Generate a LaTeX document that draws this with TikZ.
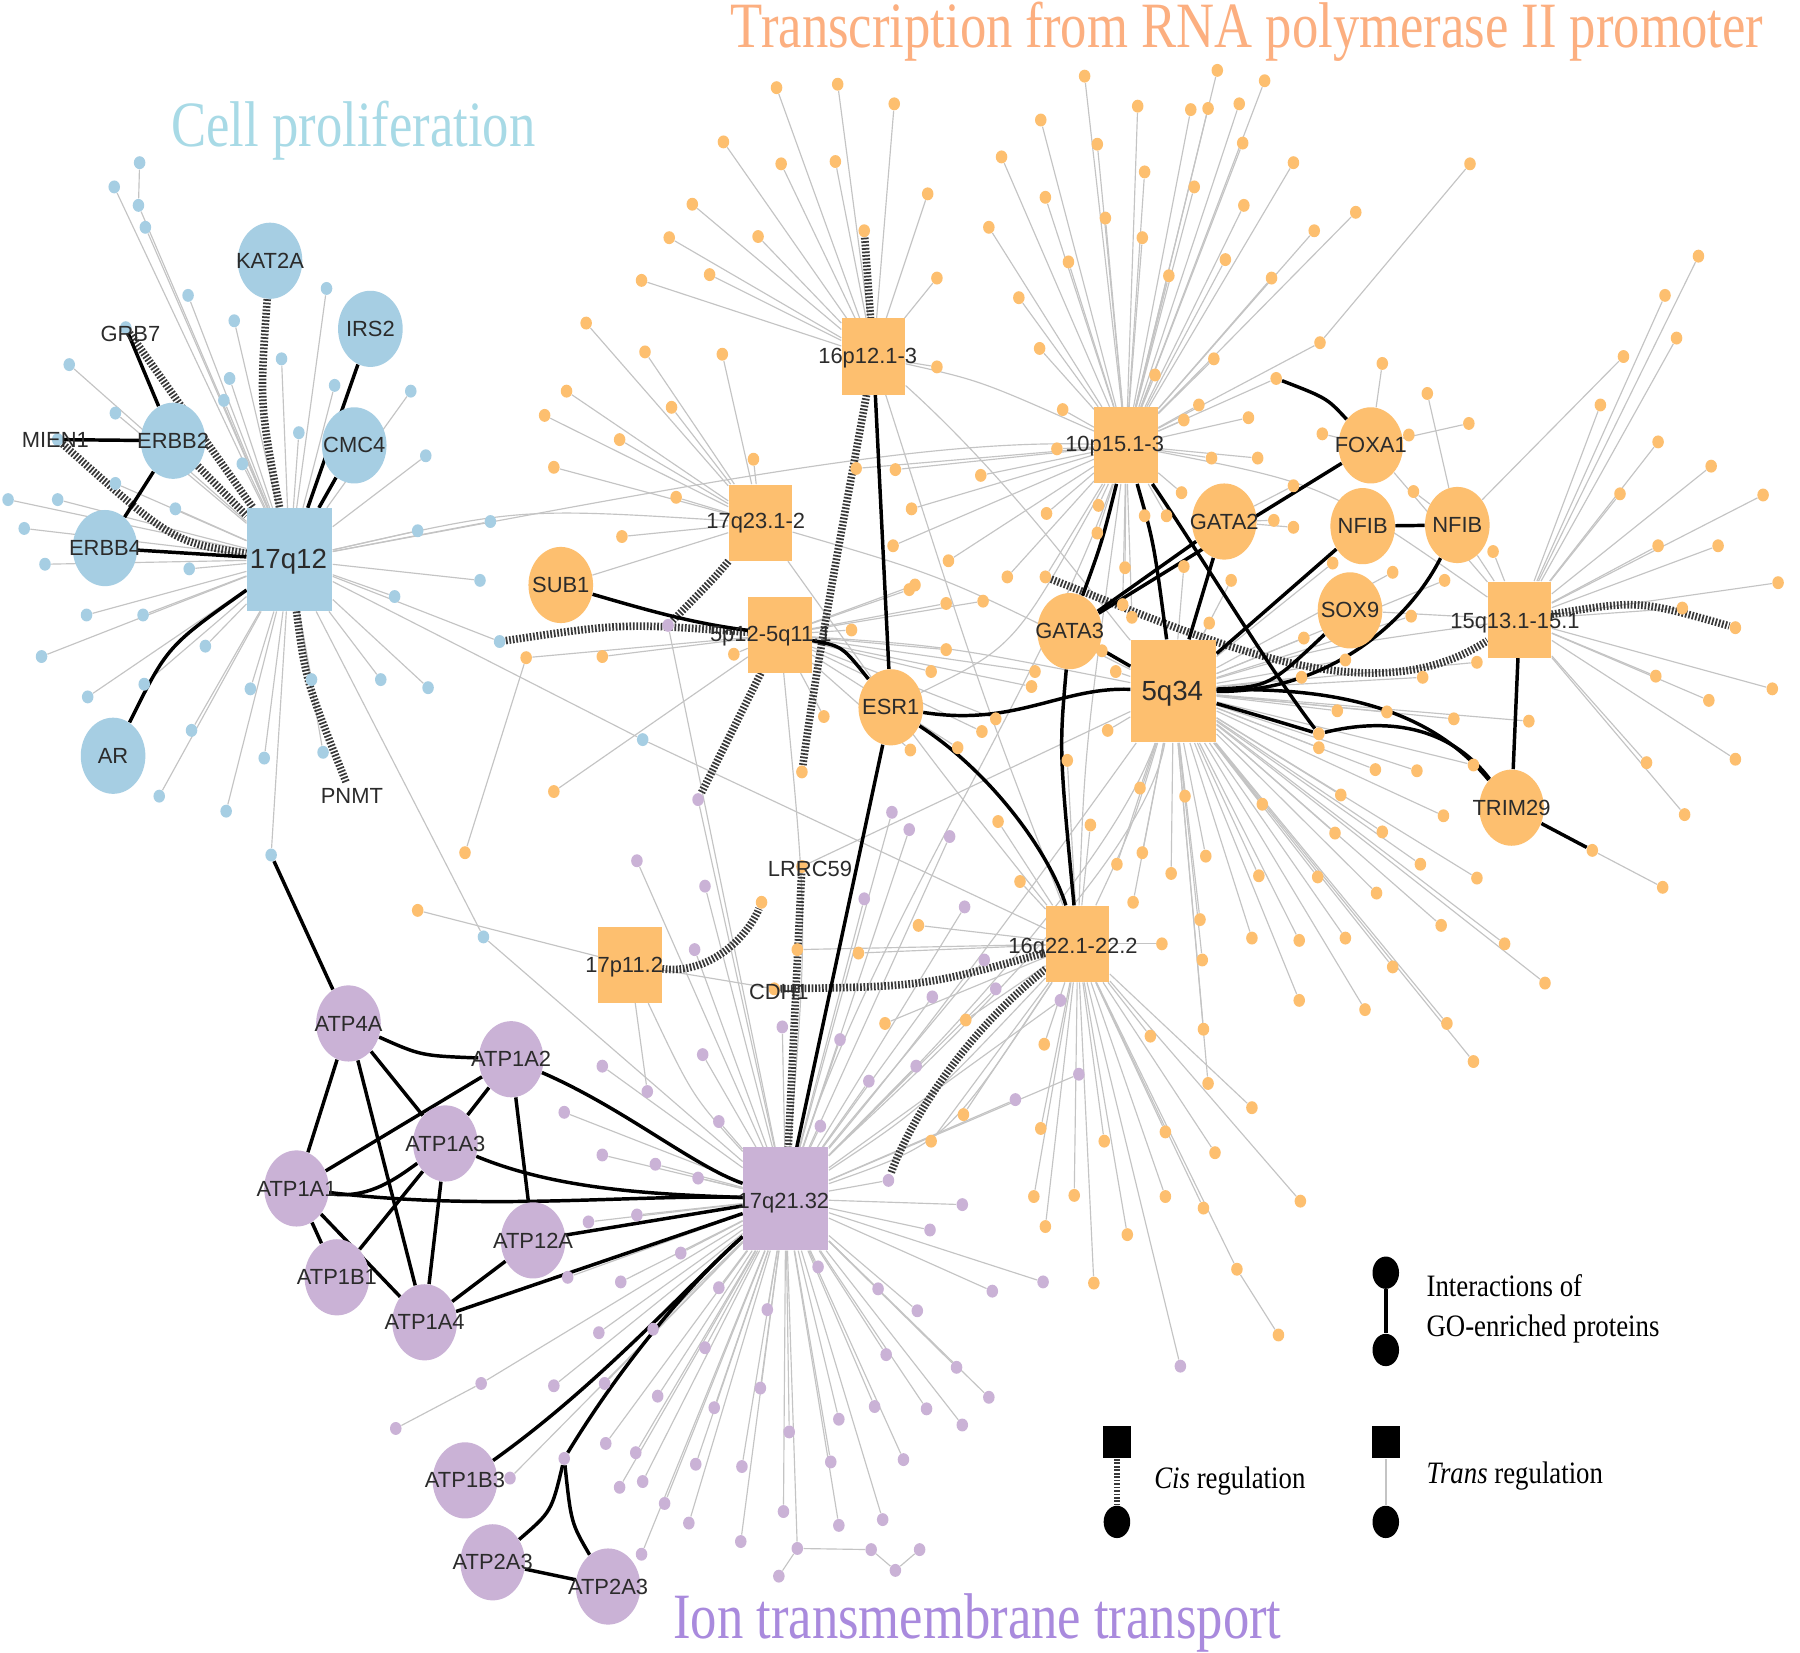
\documentclass[tikz,border=0pt]{standalone}
\usepackage{fontspec}
\setmainfont{Liberation Serif}
\newfontfamily\labfont{Liberation Sans}
\usetikzlibrary{shapes.geometric}
\definecolor{cb}{HTML}{A6CEE3}
\definecolor{co}{HTML}{FDBF6F}
\definecolor{cp}{HTML}{CAB2D6}
\definecolor{tblue}{HTML}{A8DAE6}
\definecolor{torange}{HTML}{FCAF80}
\definecolor{tpurple}{HTML}{A98ADD}
\definecolor{txt}{HTML}{2B2B2B}
\definecolor{eg}{HTML}{C4C4C4}
\pgfdeclarelayer{bg}
\pgfdeclarelayer{mid}
\pgfsetlayers{bg,mid,main}
\newcommand\mkdots[3]{\foreach \x/\y [count=\i] in #3 {\node[#2] (#1\i) at (\x,\y) {};}}
\newcommand\mkedges[3]{\foreach \x/\y [count=\i] in #3 {\draw[trans] (#2) -- (#1\i);}}
\def\listB{99/162, 126/197, 163/256, 283/250, 203/278, 244/311, 60/316, 199/328, 290/334, 356/339, 194/347, 100/358, 259/375, 369/395, 210/402, 100/419, 7/433, 50/433, 152/441, 21/458, 362/460, 425/452, 39/489, 164/493, 75/533, 124/533, 36/569, 178/560, 76/604, 125/593, 217/597, 270/589, 330/589, 342/517, 416/503, 371/596, 166/633, 229/657, 280/652, 138/690, 196/703}
\def\listA{673/76, 726/73, 775/90, 627/123, 677/142, 724/140, 600/177, 580/206, 657/205, 556/243, 615/238, 804/168, 812/241, 812/318}
\def\listC{559/305, 626/307, 582/353, 537/381, 586/431, 539/465, 653/398, 508/280, 491/339, 472/360, 480/405}
\def\listD{940/66, 986/92, 1032/95, 902/104, 951/125, 992/149, 1035/162, 868/136, 906/171, 958/189, 990/206, 857/197, 926/227, 1013/239, 883/258, 901/302, 1001/325, 921/355, 1026/364, 1039/351, 916/389, 952/438, 951/462, 992/447, 1011/447, 1024/427, 907/445, 1055/61, 1096/70, 1047/94, 1074/90, 1077/124, 1121/141, 1078/178, 1175/184, 1139/200, 1062/225, 1102/241, 850/412, 790/441, 776/407, 742/406, 774/473, 1052/311, 1082/362, 1050/397, 1090/397, 873/500, 822/486, 975/492, 973/524, 981/535}
\def\listE{1198/315, 1146/376, 1221/377, 1273/367}
\def\listF{1121/421, 1104/451, 1121/457}
\def\listG{1237/341, 1225/426, 1407/309}
\def\listH{1472/222, 1443/256, 1453/293, 1387/351, 1437/383, 1483/404, 1404/428, 1528/429, 1437/473, 1489/473, 1294/478, 1541/505, 1458/527, 1435/586, 1481/607, 1536/597, 1427/661, 1504/658, 1460/706}
\def\listK{1155/488, 1207/496, 1252/503, 1067/503, 1048/540, 1130/553, 1223/534, 1166/572, 1128/587, 1233/587, 1280/574, 1159/616, 1202/617, 1260/623, 1325/625, 1143/648, 1192/667, 1228/668, 1277/663, 1162/689, 1094/697, 1251/707, 1157/722, 1198/721, 1045/742, 1091/759, 1142/760, 1231/749, 1280/761, 1193/774, 1040/797, 1249/802, 1085/813, 1126/815, 1166/813, 1304/818, 1042/832, 1207/838, 1339/852, 1126/867, 1183/875, 1254/887, 1043/892, 1277/920, 1047/939, 1026/491, 955/564, 967/582, 960/633, 988/683, 1027/690, 990/739, 968/749, 1015/757, 982/782}
\def\listL{788/511, 793/507, 852/521, 820/523, 738/546, 820/563, 807/582, 636/567, 522/569, 714/621, 789/650, 830/648, 851/634, 863/623, 897/582, 894/595, 480/686}
\def\listM{865/712, 945/715, 884/764, 796/802, 1007/818, 744/826, 691/823, 837/884, 767/887, 905/905, 997/898, 925/659, 835/966, 807/989, 902/978, 957/989, 1010/981, 896/1037, 931/1036, 1010/1037, 906/1063, 977/1070, 948/1112, 1085/960, 1053/999, 1127/1041, 1043/1047}
\def\listP{552/746, 773/704, 788/719, 823/725, 611/768, 749/779, 836/786, 602/823, 853/832, 863/857, 808/864, 919/867, 678/890, 728/901, 609/914, 522/924, 753/937, 794/924, 880/953, 935/931, 623/972, 522/1001, 568/1009, 605/1021, 552/1053, 711/976, 590/1086, 538/1111, 623/1116, 709/1098, 834/1044, 806/1066, 860/1119, 904/1111, 761/1117, 795/1136, 665/1135, 566/1152, 611/1168, 768/1174, 829/1185, 659/1203, 524/1199, 570/1210, 619/1220, 758/1219, 803/1221, 857/1211, 727/1230, 684/1241, 834/1235, 525/1251, 551/1259, 603/1269, 643/1271, 720/1267, 783/1265, 537/1289, 557/1284, 576/1303, 679/1310, 727/1322, 765/1317, 597/1320, 642/1336, 556/1347, 489/964, 510/1059, 492/1107, 519/1155, 480/1201, 442/1281}
\begin{document}
\begin{tikzpicture}[x=0.5pt,y=-0.5pt,
 bdot/.style={ellipse,fill=cb,minimum width=5pt,minimum height=5.6pt,inner sep=0pt},
 odot/.style={bdot,fill=co},
 pdot/.style={bdot,fill=cp},
 hlab/.style={font=\labfont\fontsize{9.5}{10}\selectfont,text=txt,inner sep=0pt},
 biglab/.style={hlab,font=\labfont\fontsize{12}{13}\selectfont},
 gene/.style={ellipse,minimum width=28pt,minimum height=33pt,inner sep=0pt,label={[hlab]center:#1}},
 bgene/.style={gene=#1,fill=cb}, ogene/.style={gene=#1,fill=co}, pgene/.style={gene=#1,fill=cp},
 hubsq/.style={rectangle,minimum width=27.5pt,minimum height=33pt,inner sep=0pt},
 bighub/.style={hubsq,minimum width=37pt,minimum height=44.5pt},
 trans/.style={draw=eg,line width=0.5pt},
 ppi/.style={draw=black,line width=1.5pt},
 cisreg/.style={draw=black!78,line width=3.3pt,dash pattern=on 0.75pt off 0.75pt},
 title/.style={anchor=base west,inner sep=0pt},
 legtxt/.style={anchor=base west,inner sep=0pt,font=\fontsize{13.5}{15}\selectfont,text=black},
 legdot/.style={ellipse,fill=black,minimum width=11.5pt,minimum height=14pt,inner sep=0pt},
 legsq/.style={rectangle,fill=black,minimum width=12pt,minimum height=14pt,inner sep=0pt}]
\useasboundingbox (0,0) rectangle (1560,1432.6);

% ---------- hubs ----------
\node[bighub,fill=cb] (q12) at (251,485) {};
\node[hubsq,fill=co] (p16) at (757,309) {};
\node[hubsq,fill=co] (p10) at (976,386) {};
\node[hubsq,fill=co] (q17a) at (659,453) {};
\node[hubsq,fill=co] (p5) at (676,550) {};
\node[bighub,fill=co] (q5) at (1017,599) {};
\node[hubsq,fill=co] (q15) at (1317,537) {};
\node[hubsq,fill=co] (q16) at (934,818) {};
\node[hubsq,fill=co] (p17) at (546,836) {};
\node[bighub,fill=cp] (q21) at (681,1039) {};

% ---------- small dots ----------
\mkdots{B}{bdot}{\listB}
\mkdots{A}{odot}{\listA}
\mkdots{C}{odot}{\listC}
\mkdots{D}{odot}{\listD}
\mkdots{H}{odot}{\listH}
\mkdots{K}{odot}{\listK}
\mkdots{L}{odot}{\listL}
\mkdots{M}{odot}{\listM}
\mkdots{P}{pdot}{\listP}

% ---------- genes ----------
\node[bgene=KAT2A] (KAT2A) at (234,226) {};
\node[bgene=IRS2] (IRS2) at (321,285) {};
\node[bgene=CMC4] (CMC4) at (307,386) {};
\node[bgene=ERBB2] (ERBB2) at (150,382) {};
\node[bgene=ERBB4] (ERBB4) at (91,475) {};
\node[bgene=AR] (AR) at (98,655) {};
\node[ogene=SUB1] (SUB1) at (486,507) {};
\node[ogene=ESR1] (ESR1) at (772,613) {};
\node[ogene=GATA3] (GATA3) at (927,547) {};
\node[ogene=GATA2] (GATA2) at (1061,452) {};
\node[ogene=FOXA1] (FOXA1) at (1188,386) {};
\node[ogene=NFIB] (NFIBa) at (1181,456) {};
\node[ogene=NFIB] (NFIBb) at (1263,455) {};
\node[ogene=SOX9] (SOX9) at (1170,529) {};
\node[ogene=TRIM29] (TRIM29) at (1310,700) {};
\node[pgene=ATP4A] (ATP4A) at (302,887) {};
\node[pgene=ATP1A2] (ATP1A2) at (443,918) {};
\node[pgene=ATP1A3] (ATP1A3) at (386,991) {};
\node[pgene=ATP1A1] (ATP1A1) at (257,1030) {};
\node[pgene=ATP12A] (ATP12A) at (462,1075) {};
\node[pgene=ATP1B1] (ATP1B1) at (292,1107) {};
\node[pgene=ATP1A4] (ATP1A4) at (368,1146) {};
\node[pgene=ATP1B3] (ATP1B3) at (403,1283) {};
\node[pgene=ATP2A3] (ATP2A3a) at (427,1354) {};
\node[pgene=ATP2A3] (ATP2A3b) at (527,1375) {};

\mkdots{E}{odot}{\listE}
\mkdots{F}{odot}{\listF}
\mkdots{G}{odot}{\listG}

% ---------- special dots ----------
\node[bdot] (bt1) at (121,141) {};
\node[bdot] (bt2) at (120,178) {};
\node[bdot] (bgrb) at (109,284) {};
\node[bdot] (bmien) at (50,381) {};
\node[bdot] (bsub) at (433,556) {};
\node[bdot] (bfar) at (419,812) {};
\node[bdot] (bmid) at (557,641) {};
\node[bdot] (bdown) at (235,741) {};
\node[odot] (ocis16) at (749,200) {};
\node[odot] (ofar) at (1274,142) {};
\node[odot] (o1144) at (1144,297) {};
\node[odot] (ofox) at (1106,328) {};
\node[odot] (ocisg) at (906,500) {};
\node[odot] (ocis15) at (1504,544) {};
\node[odot] (otr) at (1143,636) {};
\node[odot] (otr2) at (1380,737) {};
\node[odot] (o1441) at (1441,769) {};
\node[odot] (ocis5) at (695,669) {};
\node[odot] (o456) at (456,570) {};
\node[odot] (o403) at (403,739) {};
\node[odot] (o362) at (362,789) {};
\node[odot] (olr) at (660,782) {};
\node[odot] (olrr) at (695,751) {};
\node[odot] (ocdh) at (671,857) {};
\node[odot] (o1072) at (1072,1100) {};
\node[odot] (o1108) at (1108,1157) {};
\node[pdot] (pcis17) at (579,542) {};
\node[pdot] (pcis5) at (605,693) {};
\node[pdot] (pcis16) at (770,1023) {};
\node[pdot] (pblack) at (489,1264) {};
\node[pdot] (p343) at (343,1238) {};
\node[pdot] (p417) at (417,1199) {};
\node[pdot] (pc1) at (691,1342) {};
\node[pdot] (pc2) at (755,1343) {};
\node[pdot] (pc3) at (776,1361) {};
\node[pdot] (pc4) at (797,1343) {};
\node[pdot] (pc5) at (675,1366) {};
\node[pdot] (ps) at (561,946) {};
\node[pdot] (p1023) at (1023,1184) {};

% ---------- trans edges ----------
\begin{pgfonlayer}{bg}
\fill[white] (0,0) rectangle (1560,1432.6);
\mkedges{B}{q12}{\listB}
\mkedges{A}{p16}{\listA}
\mkedges{C}{q17a}{\listC}
\mkedges{D}{p10}{\listD}
\mkedges{E}{FOXA1}{\listE}
\mkedges{F}{GATA2}{\listF}
\mkedges{G}{NFIBb}{\listG}
\mkedges{H}{q15}{\listH}
\mkedges{K}{q5}{\listK}
\mkedges{L}{p5}{\listL}
\mkedges{M}{q16}{\listM}
\mkedges{P}{q21}{\listP}
\draw[trans] (bt1) -- (bt2); \draw[trans] (bt2) -- (q12);
\draw[trans] (bsub) -- (q12); \draw[trans] (bfar) -- (q12); \draw[trans] (bfar) -- (q21);
\draw[trans] (bmid) -- (q12); \draw[trans] (bmid) -- (q16); \draw[trans] (bdown) -- (q12);
\draw[trans] (ofar) -- (o1144); \draw[trans] (o1144) -- (p10);
\draw[trans] (ofox) -- (p10); \draw[trans] (ocisg) -- (p10);
\draw[trans] (otr2) -- (o1441);
\draw[trans] (o456) -- (p5); \draw[trans] (o403) -- (o456); \draw[trans] (o362) -- (p17);
\draw[trans] (olrr) -- (q5); \draw[trans] (ocdh) -- (p17);
\draw[trans] (o1072) -- (q16); \draw[trans] (o1108) -- (o1072);
\draw[trans] (pcis17) -- (q21); \draw[trans] (pcis5) -- (q21); \draw[trans] (pcis16) -- (q21);
\draw[trans] (p343) -- (p417); \draw[trans] (p417) -- (q21);
\draw[trans] (pc1) -- (q21); \draw[trans] (pc1) -- (pc2); \draw[trans] (pc2) -- (pc3);
\draw[trans] (pc4) -- (pc3); \draw[trans] (pc5) -- (pc1);
\draw[trans] (ps) -- (p17); \draw[trans] (p1023) -- (q16);
% hub to hub
\draw[trans] (q12) .. controls (450,440) .. (q17a);
\draw[trans] (q12) .. controls (600,420) and (800,380) .. (p10);
\draw[trans] (p16) .. controls (850,330) .. (p10);
\draw[trans] (p16) .. controls (880,420) and (950,520) .. (q5);
\draw[trans] (p10) .. controls (1150,420) .. (q15);
\draw[trans] (p5) .. controls (820,560) .. (q5);
\draw[trans] (q17a) .. controls (820,500) .. (q5);
\draw[trans] (q21) .. controls (800,900) and (930,720) .. (q5);
\draw[trans] (q21) .. controls (780,940) and (960,760) .. (q5);
\draw[trans] (q21) .. controls (760,960) and (990,760) .. (q5);
\draw[trans] (q21) .. controls (800,960) .. (q16);
\draw[trans] (q21) .. controls (820,990) .. (q16);
\draw[trans] (q21) .. controls (760,800) and (900,600) .. (p10);
\draw[trans] (q16) .. controls (980,720) .. (q5);
\draw[trans] (q16) .. controls (940,650) .. (p10);
\draw[trans] (p5) .. controls (700,800) .. (q21);
\draw[trans] (p17) .. controls (600,950) .. (q21);
\draw[trans] (q17a) .. controls (800,650) .. (q16);
\draw[trans] (p16) .. controls (850,600) .. (q16);
\draw[trans] (q5) .. controls (1150,560) .. (q15);
\draw[trans] (FOXA1) -- (q15);
\draw[trans] (NFIBb) -- (q15);
\draw[trans] (SOX9) -- (q15);
\draw[trans] (GATA3) -- (q5);
\draw[trans] (ESR1) .. controls (880,560) .. (p10);
\draw[trans] (SUB1) -- (q17a);
\end{pgfonlayer}

% ---------- cis regulation and interactions ----------
\begin{pgfonlayer}{mid}
\draw[cisreg] (KAT2A) .. controls (225,350) .. (q12);
\draw[cisreg] (bgrb) -- (q12);
\draw[cisreg] (ERBB2) -- (q12);
\draw[cisreg] (bmien) .. controls (150,470) .. (q12);
\coordinate (pnmtend) at (300,678);
\draw[cisreg] (q12) .. controls (265,590) .. (pnmtend);
\draw[cisreg] (ocis16) -- (p16);
\draw[cisreg] (p16) .. controls (735,430) and (710,560) .. (ocis5);
\draw[cisreg] (q17a) .. controls (620,500) .. (pcis17);
\draw[cisreg] (p5) -- (pcis5);
\draw[cisreg] (bsub) .. controls (540,540) .. (p5);
\draw[cisreg] (olrr) -- (q21);
\draw[cisreg] (p17) .. controls (615,845) and (648,812) .. (olr);
\draw[cisreg] (ocdh) .. controls (800,855) .. (q16);
\draw[cisreg] (q16) .. controls (830,900) and (785,980) .. (pcis16);
\draw[cisreg] (ocisg) .. controls (1060,560) and (1190,620) .. (q15);
\draw[cisreg] (q15) .. controls (1420,520) .. (ocis15);

\draw[ppi] (bgrb) -- (ERBB2);
\draw[ppi] (bmien) -- (ERBB2);
\draw[ppi] (ERBB2) -- (ERBB4);
\draw[ppi] (ERBB4) -- (q12);
\draw[ppi] (AR) .. controls (145,560) .. (q12);
\draw[ppi] (IRS2) -- (q12);
\draw[ppi] (CMC4) -- (q12);
\draw[ppi] (bdown) -- (ATP4A);
\draw[ppi] (ATP4A) .. controls (365,915) .. (ATP1A2);
\draw[ppi] (ATP4A) -- (ATP1A3);
\draw[ppi] (ATP4A) -- (ATP1A1);
\draw[ppi] (ATP4A) -- (ATP1A4);
\draw[ppi] (ATP1A2) -- (ATP1A1);
\draw[ppi] (ATP1A2) -- (ATP1A3);
\draw[ppi] (ATP1A2) -- (ATP12A);
\draw[ppi] (ATP1A2) .. controls (540,960) and (600,1010) .. (q21);
\draw[ppi] (ATP1A1) .. controls (320,1040) and (345,1020) .. (ATP1A3);
\draw[ppi] (ATP1A3) -- (ATP1B1);
\draw[ppi] (ATP1A3) -- (ATP1A4);
\draw[ppi] (ATP1A3) .. controls (480,1030) and (560,1035) .. (q21);
\draw[ppi] (ATP1A1) -- (ATP1B1);
\draw[ppi] (ATP1A1) -- (ATP1A4);
\draw[ppi] (ATP1A1) .. controls (420,1050) and (550,1035) .. (q21);
\draw[ppi] (ATP12A) -- (ATP1A4);
\draw[ppi] (ATP12A) -- (q21);
\draw[ppi] (ATP1A4) -- (q21);
\draw[ppi] (ATP1B3) .. controls (520,1200) and (600,1110) .. (q21);
\draw[ppi] (pblack) .. controls (540,1180) and (600,1110) .. (q21);
\draw[ppi] (pblack) .. controls (478,1310) .. (ATP2A3a);
\draw[ppi] (pblack) .. controls (495,1320) .. (ATP2A3b);
\draw[ppi] (ATP2A3a) -- (ATP2A3b);
\draw[ppi] (ESR1) -- (q21);
\draw[ppi] (p16) -- (ESR1);
\draw[ppi] (SUB1) .. controls (565,530) and (600,540) .. (p5);
\draw[ppi] (p5) .. controls (730,560) .. (ESR1);
\draw[ppi] (ESR1) .. controls (880,630) and (920,595) .. (q5);
\draw[ppi] (ESR1) .. controls (860,670) and (910,740) .. (q16);
\draw[ppi] (GATA3) .. controls (918,650) .. (q16);
\draw[ppi] (GATA3) -- (q5);
\draw[ppi] (GATA3) -- (GATA2);
\draw[ppi] (GATA3) -- (FOXA1);
\draw[ppi] (GATA3) .. controls (955,470) .. (p10);
\draw[ppi] (p10) .. controls (1000,470) .. (q5);
\draw[ppi] (p10) .. controls (1040,480) and (1100,580) .. (otr);
\draw[ppi] (GATA2) -- (q5);
\draw[ppi] (NFIBa) -- (q5);
\draw[ppi] (NFIBa) -- (NFIBb);
\draw[ppi] (ofox) .. controls (1150,345) .. (FOXA1);
\draw[ppi] (q15) -- (TRIM29);
\draw[ppi] (TRIM29) -- (otr2);
\draw[ppi] (q5) .. controls (1100,595) .. (SOX9);
\draw[ppi] (q5) .. controls (1150,600) and (1220,540) .. (NFIBb);
\draw[ppi] (q5) .. controls (1160,595) and (1240,615) .. (TRIM29);
\draw[ppi] (q5) .. controls (1090,620) .. (otr);
\draw[ppi] (otr) .. controls (1200,622) and (1255,628) .. (TRIM29);
\end{pgfonlayer}

% ---------- labels ----------
\node[biglab] (lq12) at (250,487) {17q12};
\node[hlab] (lp16) at (752,310) {16p12.1-3};
\node[hlab] (lp10) at (966,387) {10p15.1-3};
\node[hlab] (lq17a) at (655,453) {17q23.1-2};
\node[hlab] (lp5) at (668,551) {5p12-5q11.1};
\node[biglab] (lq5) at (1016,601) {5q34};
\node[hlab] (lq15) at (1313,540) {15q13.1-15.1};
\node[hlab] (lq16) at (930,822) {16q22.1-22.2};
\node[hlab] (lp17) at (541,838) {17p11.2};
\node[hlab] (lq21) at (679,1043) {17q21.32};
\node[hlab] (lgrb) at (113,289) {GRB7};
\node[hlab] (lmien) at (48,381) {MIEN1};
\node[hlab] (lpnmt) at (305,690) {PNMT};
\node[hlab] (llrr) at (702,753) {LRRC59};
\node[hlab] (lcdh) at (675,860) {CDH1};

% ---------- titles ----------
\node[title,text=tblue] (tcell) at (148,127) {\scalebox{0.815}[1]{\fontsize{28}{30}\selectfont Cell proliferation}};
\node[title,text=torange] (ttran) at (633,41) {\scalebox{0.815}[1]{\fontsize{28}{30}\selectfont Transcription from RNA polymerase II promoter}};
\node[title,text=tpurple] (tion) at (583,1420) {\scalebox{0.815}[1]{\fontsize{28}{30}\selectfont Ion transmembrane transport}};

% ---------- legend ----------
\node[legdot] (li1) at (1201,1103) {};
\node[legdot] (li2) at (1201,1170) {};
\draw[ppi] (li1) -- (li2);
\node[legtxt] (lt1) at (1236,1124) {\scalebox{0.86}[1]{Interactions of}};
\node[legtxt] (lt2) at (1236,1158) {\scalebox{0.86}[1]{GO-enriched proteins}};
\node[legsq] (lc1) at (968,1250) {};
\node[legdot] (lc2) at (968,1319) {};
\draw[cisreg,line width=2.6pt] (lc1) -- (lc2);
\node[legtxt] (lt3) at (1000,1290) {\scalebox{0.86}[1]{\textit{Cis} regulation}};
\node[legsq] (ls1) at (1201,1250) {};
\node[legdot] (ls2) at (1201,1319) {};
\draw[trans,line width=0.9pt] (ls1) -- (ls2);
\node[legtxt] (lt4) at (1236,1286) {\scalebox{0.86}[1]{\textit{Trans} regulation}};
\end{tikzpicture}
\end{document}
